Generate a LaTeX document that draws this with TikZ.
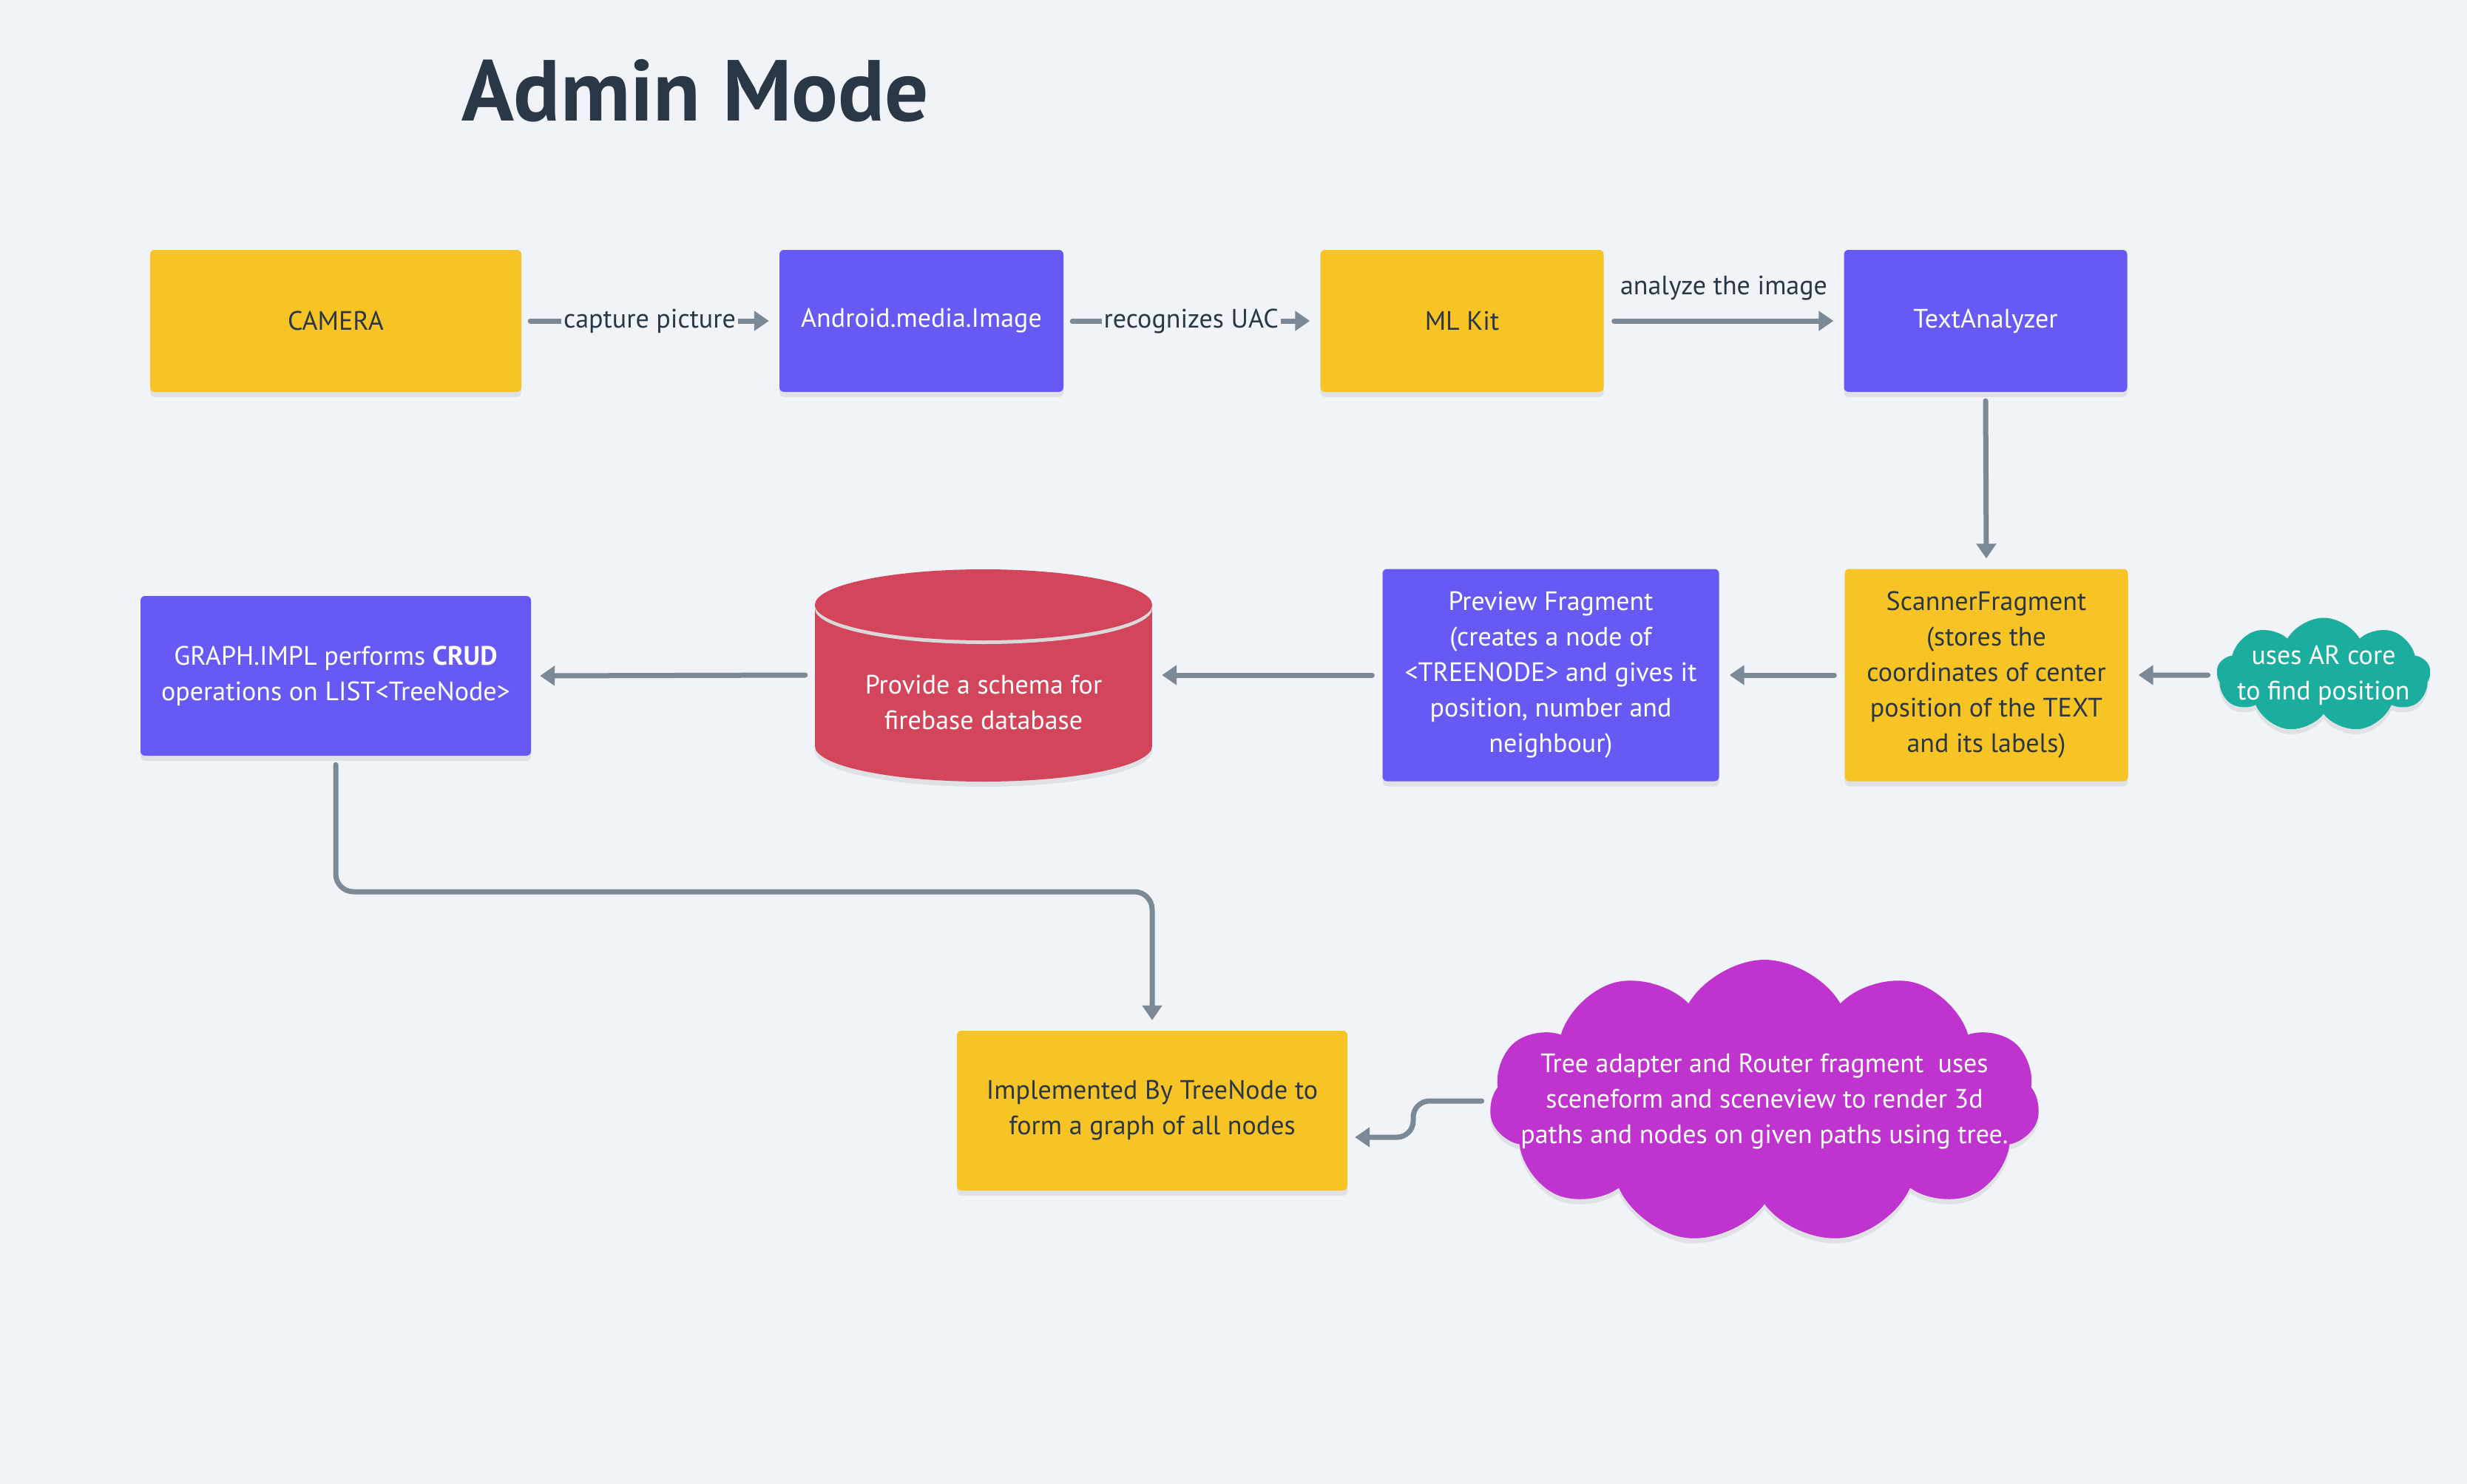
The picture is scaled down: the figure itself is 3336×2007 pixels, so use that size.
\documentclass[tikz,border=0pt]{standalone}
\usepackage{fontspec}
\setmainfont{PT Sans}
\usetikzlibrary{arrows.meta,shapes.symbols,shadows}
\definecolor{bgc}{HTML}{F0F3F7}
\definecolor{ylw}{HTML}{F7C325}
\definecolor{prp}{HTML}{6759F3}
\definecolor{dbred}{HTML}{D3455B}
\definecolor{tealc}{HTML}{1BAE9E}
\definecolor{mag}{HTML}{BF33CF}
\definecolor{arrc}{HTML}{7B8896}
\definecolor{ink}{HTML}{2A3746}
\newcommand\boxfont{\fontsize{36}{48}\selectfont}
\newcommand\titlefont{\fontsize{117}{117}\selectfont\bfseries}
\tikzset{
  softshadow/.style={drop shadow={shadow xshift=0pt, shadow yshift=-7pt, opacity=0.07, fill=black}},
  box/.style={rectangle, rounded corners=6pt, inner sep=0pt, align=center, font=\boxfont, softshadow},
  ybox/.style={box, fill=ylw, text=ink},
  pbox/.style={box, fill=prp, text=white},
  cloudbox/.style={cloud, cloud puffs=10, cloud puff arc=120, cloud ignores aspect, inner sep=0pt, softshadow},
  cloudtext/.style={align=center, font=\boxfont, text=white, inner sep=0pt},
  arr/.style={draw=arrc, line width=7pt, line cap=round, -{Triangle[length=20pt,width=26pt]}},
  lbl/.style={fill=bgc, text=ink, font=\boxfont, inner sep=3pt},
}
\begin{document}
\begin{tikzpicture}[x=1pt,y=-1pt]
\fill[bgc] (0,0) rectangle (3336,2007);
\useasboundingbox (0,0) rectangle (3336,2007);

\node[anchor=base west, inner sep=0pt, font=\titlefont, text=ink] (title) at (624,164) {Admin Mode};

% row 1
\node[ybox, minimum width=502pt, minimum height=192pt] (cam) at (454,434) {CAMERA};
\node[pbox, minimum width=384pt, minimum height=192pt] (img) at (1246,434) {Android.media.Image};
\node[ybox, minimum width=383pt, minimum height=192pt] (ml) at (1977,434) {ML Kit};
\node[pbox, minimum width=383pt, minimum height=192pt] (ta) at (2685,434) {TextAnalyzer};

% row 2
\node[pbox, minimum width=528pt, minimum height=216pt] (graph) at (454,914) {GRAPH.IMPL performs \textbf{CRUD}\\operations on LIST<TreeNode>};

% cylinder
\fill[dbred, softshadow] (1102,818) rectangle (1558,1009);
\fill[dbred, softshadow] (1330,1009) ellipse [x radius=228, y radius=48];
\fill[dbred] (1102,818) rectangle (1558,1009);
\fill[black!15] (1330,823) ellipse [x radius=228, y radius=48];
\fill[dbred] (1330,818) ellipse [x radius=228, y radius=48];
\node[minimum width=456pt, minimum height=287pt, inner sep=0pt] (db) at (1330,913) {};
\node[cloudtext] (dbtext) at (1330,950) {Provide a schema for\\firebase database};

\node[pbox, minimum width=455pt, minimum height=287pt] (prev) at (2097,913) {Preview Fragment\\(creates a node of\\<TREENODE> and gives it\\position, number and\\neighbour)};
\node[ybox, minimum width=383pt, minimum height=287pt] (scan) at (2686,913) {ScannerFragment\\(stores the\\coordinates of center\\position of the TEXT\\and its labels)};
\node[cloudbox, fill=tealc, cloud puffs=9, minimum width=289pt, minimum height=155pt] (ar) at (3142,913) {};
\node[cloudtext] (artext) at (ar.center) {uses AR core\\to find position};

% row 3
\node[ybox, minimum width=528pt, minimum height=216pt] (impl) at (1558,1502) {Implemented By TreeNode to\\form a graph of all nodes};
\node[cloudbox, fill=mag, cloud puffs=11, minimum width=744pt, minimum height=384pt] (tree) at (2386,1490) {};
\node[cloudtext] (treetext) at (tree.center) {Tree adapter and Router fragment\ \ uses\\sceneform and sceneview to render 3d\\paths and nodes on given paths using tree.};

% connectors
\draw[arr] ([xshift=12pt]cam.east) -- node[lbl]{capture picture} ([xshift=-14pt]img.west);
\draw[arr] ([xshift=12pt]img.east) -- node[lbl]{recognizes UAC} ([xshift=-14pt]ml.west);
\draw[arr] ([xshift=14pt]ml.east) -- node[midway, yshift=44pt, text=ink, font=\boxfont]{analyze the image} ([xshift=-14pt]ta.west);
\draw[arr] ([yshift=-12pt]ta.south) -- ([yshift=14pt]scan.north);
\draw[arr] ([xshift=-12pt]ar.west) -- ([xshift=14pt]scan.east);
\draw[arr] ([xshift=-14pt]scan.west) -- ([xshift=14pt]prev.east);
\draw[arr] ([xshift=-14pt]prev.west) -- ([xshift=13pt]db.east);
\draw[arr] ([xshift=-13pt]db.west) -- ([xshift=12pt]graph.east);
\coordinate (bendA) at (454,1206);
\coordinate (bendB) at (1558,1206);
\draw[arr, rounded corners=24pt] ([yshift=-12pt]graph.south) -- (bendA) -- (bendB) -- ([yshift=14pt]impl.north);
\coordinate (k1) at (1911,1489);
\coordinate (k2) at (1911,1538);
\coordinate (k3) at ([yshift=-36pt]impl.east);
\draw[arr, rounded corners=22pt] ([xshift=-12pt]tree.west |- k1) -- (k1) -- (k2) -- ([xshift=10pt]k3);
\end{tikzpicture}
\end{document}
